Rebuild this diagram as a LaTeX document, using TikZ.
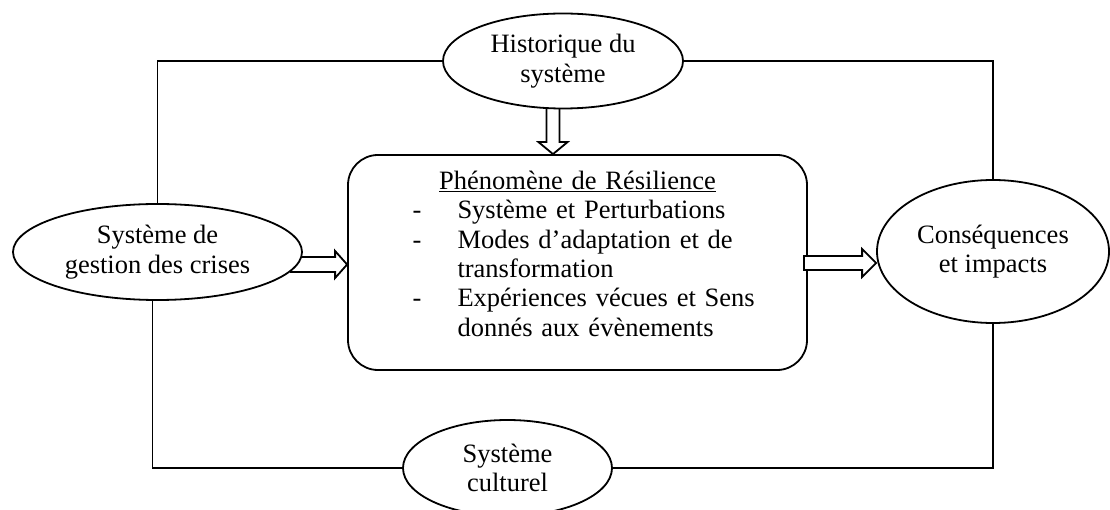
\documentclass[tikz,border=0pt]{standalone}
\usepackage{fontspec}
\setmainfont{Liberation Serif}
\usetikzlibrary{shapes.geometric,calc,backgrounds}
\begin{document}
\begin{tikzpicture}[x=1pt,y=-1pt,
  every node/.style={font=\fontsize{26.5pt}{29.4pt}\selectfont},
  ell/.style={ellipse,draw,line width=1.8pt,fill=white,inner sep=0pt,align=center},
  mainbox/.style={rectangle,draw,line width=1.8pt,rounded corners=30pt,fill=white,inner sep=0pt,
    minimum width=459pt,minimum height=215pt,text width=430pt,align=left},
  conn/.style={line width=1.8pt,line join=miter},
  blockarr/.style={draw,fill=white,line width=1.8pt,line join=miter}]
\useasboundingbox (0,0) rectangle (1110,510);
% nodes
\node[ell,minimum width=240pt,minimum height=95pt] (hist) at (563,61) {Historique du\\système};
\node[ell,minimum width=289pt,minimum height=96pt] (lsys) at (157.5,252) {Système de\\gestion des crises};
\node[ell,minimum width=232pt,minimum height=143pt] (cons) at (993,251.5) {Conséquences\\et impacts};
\node[ell,minimum width=209pt,minimum height=96pt] (cult) at (507.5,468) {Système\\culturel};
\node[mainbox] (box) at (577.5,262.5) {%
\makebox[430pt][c]{\underline{Phénomène de Résilience}}\\
\hspace*{50pt}\makebox[45pt][l]{-}Système et Perturbations\\
\hspace*{50pt}\makebox[45pt][l]{-}Modes d’adaptation et de\\
\hspace*{95pt}transformation\\
\hspace*{50pt}\makebox[45pt][l]{-}Expériences vécues et Sens\\
\hspace*{95pt}donnés aux évènements\rule[-18pt]{0pt}{18pt}};
% helper coordinates
\coordinate (ta) at (553,0);
\coordinate (la) at (0,264.5);
\coordinate (ra) at (0,263);
% connectors
\draw[conn] (lsys.north) -- (lsys.north |- hist.west) -- (hist.west);
\draw[conn] (hist.east) -- (hist.east -| cons.north) -- (cons.north);
\draw[conn] ([xshift=-5pt]lsys.south) |- (cult.west);
\draw[conn] (cult.east) -| (cons.south);
% block arrows behind ellipses
\begin{scope}[on background layer]
\draw[blockarr] let \p1=(ta |- hist.south), \p2=(ta |- box.north) in
  (\x1-6.5pt,\y1+6pt) -- (\x1-6.5pt,\y2+12pt) -- (\x1-14.5pt,\y2+12pt) -- (\x1,\y2)
  -- (\x1+14.5pt,\y2+12pt) -- (\x1+6.5pt,\y2+12pt) -- (\x1+6.5pt,\y1+6pt) -- cycle;
\draw[blockarr] let \p1=(la -| lsys.east), \p2=(la -| box.west) in
  (\x1-12pt,\y1+7.5pt) -- (\x2-12pt,\y1+7.5pt) -- (\x2-12pt,\y1+13.5pt) -- (\x2,\y1)
  -- (\x2-12pt,\y1-13.5pt) -- (\x2-12pt,\y1-7.5pt) -- (\x1-12pt,\y1-7.5pt) -- cycle;
\end{scope}
\draw[blockarr] let \p1=(ra -| box.east), \p2=(ra -| cons.west) in
  (\x1-4pt,\y1+7pt) -- (\x2-14pt,\y1+7pt) -- (\x2-14pt,\y1+14pt) -- (\x2,\y1)
  -- (\x2-14pt,\y1-14pt) -- (\x2-14pt,\y1-7pt) -- (\x1-4pt,\y1-7pt) -- cycle;
\end{tikzpicture}
\end{document}
